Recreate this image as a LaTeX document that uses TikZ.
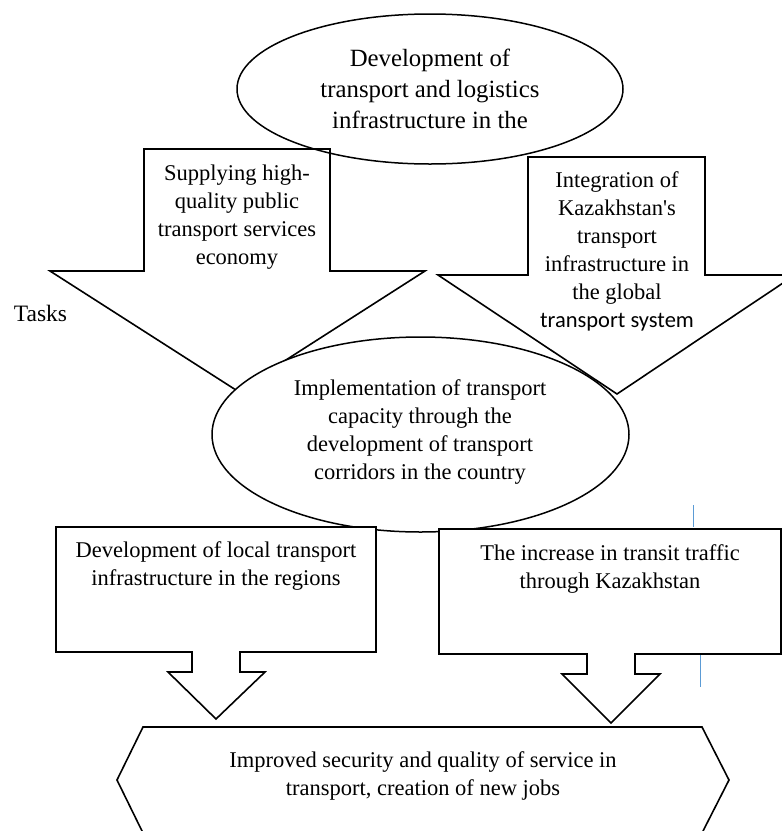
\documentclass[tikz,border=0pt]{standalone}
\usepackage{fontspec}
\newfontfamily\tnr{Liberation Serif}
\newfontfamily\calib{Carlito}
\definecolor{guideblue}{RGB}{91,155,213}
\tikzset{
  shapeline/.style={draw=black, line width=1.6pt, line join=miter, fill=white},
  ovalline/.style={draw=black, line width=1.5pt},
  txt/.style={align=center, font=\tnr\fontsize{22.5}{28}\selectfont, inner sep=0pt},
  toptxt/.style={align=center, font=\tnr\fontsize{24.8}{31}\selectfont, inner sep=0pt},
  guide/.style={draw=guideblue, line width=0.8pt}
}
\begin{document}
\begin{tikzpicture}[x=1pt,y=-1pt]
\useasboundingbox (0,0) rectangle (782,831);
\clip (0,0) rectangle (782,831);

% left block arrow
\draw[shapeline] (144,149) -- (330,149) -- (330,271) -- (425,271) -- (237.5,391)
  -- (50,271) -- (144,271) -- cycle;
% right block arrow
\draw[shapeline] (528,157) -- (705,157) -- (705,275) -- (795,275) -- (617,394)
  -- (438,275) -- (528,275) -- cycle;
% top ellipse
\draw[ovalline] (430,89) ellipse [x radius=193, y radius=75];
% middle ellipse
\draw[ovalline, fill=white] (420.5,434.5) ellipse [x radius=208.5, y radius=97.5];

% lower left box with arrow
\draw[shapeline] (56,527) -- (376,527) -- (376,652) -- (240,652) -- (240,672)
  -- (265,672) -- (216,719) -- (168,672) -- (192,672) -- (192,652) -- (56,652) -- cycle;
% lower right box with arrow
\draw[shapeline] (439,529) -- (781,529) -- (781,654) -- (635,654) -- (635,674)
  -- (660,674) -- (611,723) -- (562,674) -- (587,674) -- (587,654) -- (439,654) -- cycle;
% hexagon
\draw[shapeline] (143,727) -- (702,727) -- (729,780) -- (702,833) -- (143,833)
  -- (117,780) -- cycle;

% thin blue marks
\coordinate (b1a) at (693,505);
\coordinate (b1b) at (693,527);
\coordinate (b2a) at (700,655);
\coordinate (b2b) at (700,687);
\draw[guide] (b1a) -- (b1b);
\draw[guide] (b2a) -- (b2b);

% texts
\node[toptxt] (goal) at (430,89) {Development of\\transport and logistics\\infrastructure in the};
\node[txt] (supply) at (237,217) {Supplying high-\\quality public\\transport services\\economy};
\node[txt] (integr) at (617,251) {Integration of\\Kazakhstan's\\transport\\infrastructure in\\the global\\{\calib transport system}};
\node[txt, font=\tnr\fontsize{23.5}{28}\selectfont] (tasks) at (40.5,313) {Tasks};
\node[txt] (impl) at (420,431.5) {Implementation of transport\\capacity through the\\development of transport\\corridors in the country};
\node[txt] (local) at (216,565.5) {Development of local transport\\infrastructure in the regions};
\node[txt] (transit) at (610,568.5) {The increase in transit traffic\\through Kazakhstan};
\node[txt] (result) at (423,776) {Improved security and quality of service in\\transport, creation of new jobs};
\end{tikzpicture}
\end{document}
